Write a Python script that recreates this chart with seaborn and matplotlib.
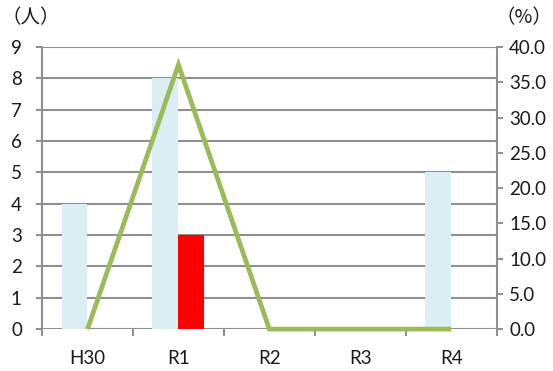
import matplotlib
matplotlib.use("Agg")
import matplotlib.pyplot as plt
import seaborn as sns
import pandas as pd

# Data
years = ["H30", "R1", "R2", "R3", "R4"]
people_total = [4, 8, 0, 0, 5]
people_sub = [0, 3, 0, 0, 0]
rate_pct = [0.0, 37.5, 0.0, 0.0, 0.0]

sns.set_theme(style="white")
plt.rcParams["font.family"] = ["Lato", "Noto Sans CJK JP", "DejaVu Sans"]

grid_c = "#8f8f8f"
blue_c = "#daeef3"
red_c = "#ff0000"
green_c = "#9bbb59"
text_c = "#1a1a1a"
fs = 13.5

df = pd.DataFrame({
    "year": years * 2,
    "value": people_total + people_sub,
    "series": ["total"] * len(years) + ["sub"] * len(years),
})

fig = plt.figure(figsize=(5.53, 3.71), dpi=100)
ax = fig.add_axes([0.076, 0.113, 0.822, 0.760])

sns.barplot(data=df, x="year", y="value", hue="series", order=years,
            hue_order=["total", "sub"], palette=[blue_c, red_c],
            width=0.57, linewidth=0, saturation=1, legend=False, ax=ax,
            zorder=3)

ax.set_ylim(0, 9)
ax.set_xlim(-0.5, len(years) - 0.5)
ax.set_yticks(range(0, 10))
ax.yaxis.grid(True, color=grid_c, linewidth=1.5, zorder=0)
ax.set_axisbelow(True)
ax.set_xlabel("")
ax.set_ylabel("")

# x ticks at category boundaries, labels at centers
ax.set_xticks([i - 0.5 for i in range(len(years) + 1)], minor=False)
ax.set_xticklabels([""] * (len(years) + 1))
ax.set_xticks(range(len(years)), minor=True)
ax.set_xticklabels(years, minor=True)
ax.tick_params(axis="x", which="major", length=5, width=1.5, color=grid_c,
               direction="out", bottom=True)
ax.tick_params(axis="x", which="minor", length=0, pad=15, labelsize=fs,
               labelcolor=text_c)
ax.tick_params(axis="y", length=4.5, width=1.5, color=grid_c, direction="out",
               left=True, labelsize=fs, labelcolor=text_c, pad=10)

for side in ["top", "right", "bottom"]:
    ax.spines[side].set_visible(False)
ax.spines["left"].set_color(grid_c)
ax.spines["left"].set_linewidth(1.5)

ax2 = ax.twinx()
sns.lineplot(x=list(range(len(years))), y=rate_pct, ax=ax2, color=green_c,
             linewidth=3.4, clip_on=False, zorder=5)
line = ax2.lines[0]
line.set_solid_joinstyle("miter")
line.set_solid_capstyle("butt")
ax2.set_ylim(0, 40)
ax2.set_yticks(range(0, 41, 5))
ax2.set_yticklabels([f"{v:.1f}" for v in range(0, 41, 5)])
ax2.tick_params(axis="y", length=4.5, width=1.5, color=grid_c, direction="out",
                right=True, labelsize=fs, labelcolor=text_c, pad=4.5)
for side in ["top", "left", "bottom"]:
    ax2.spines[side].set_visible(False)
ax2.spines["right"].set_color(grid_c)
ax2.spines["right"].set_linewidth(1.5)
ax2.set_xlim(-0.5, len(years) - 0.5)

unit_font = ["Noto Sans CJK JP", "DejaVu Sans"]
fig.text(0.002, 0.952, "（人）", fontsize=14, color=text_c, family=unit_font,
         ha="left", va="center")
fig.text(0.998, 0.952, "（%）", fontsize=14, color=text_c, family=unit_font,
         ha="right", va="center")

fig.savefig("out.png", dpi=100)
